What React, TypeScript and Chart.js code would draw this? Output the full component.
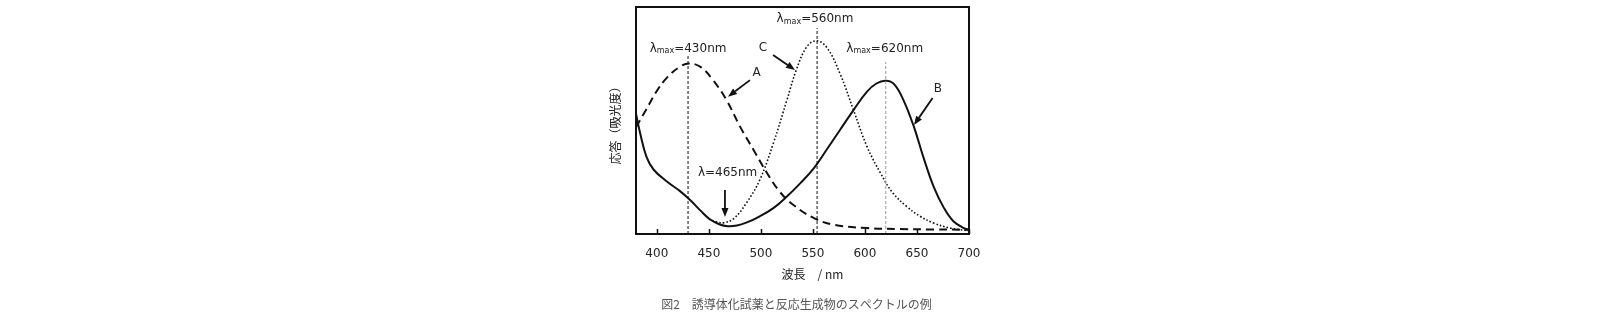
import React, { useEffect, useRef } from "react";
import { Chart, registerables } from "chart.js";
Chart.register(...registerables);

// Wavelength (nm) and response values
const A_WL = [380, 390, 400, 410, 422, 431, 442, 454, 467, 480, 493, 506, 518, 531, 551, 570, 602, 634, 666, 700];
const A_VAL = [0.47, 0.55, 0.63, 0.69, 0.736, 0.751, 0.736, 0.678, 0.59, 0.473, 0.37, 0.268, 0.187, 0.129, 0.07, 0.041, 0.026, 0.022, 0.02, 0.019];

const B_WL = [380, 384, 390, 397, 410, 422, 432, 442, 451, 460, 468, 477, 486, 499, 512, 525, 538, 551, 563, 576, 589, 602, 611, 620, 628, 637, 647, 656, 666, 676, 685, 695, 700];
const B_VAL = [0.53, 0.444, 0.341, 0.283, 0.23, 0.19, 0.15, 0.103, 0.065, 0.043, 0.034, 0.037, 0.05, 0.078, 0.114, 0.165, 0.224, 0.29, 0.37, 0.458, 0.546, 0.627, 0.663, 0.675, 0.66, 0.59, 0.473, 0.341, 0.209, 0.114, 0.056, 0.026, 0.019];

const C_WL = [450, 458, 465, 474, 486, 499, 512, 525, 534, 544, 553, 563, 576, 589, 602, 615, 627, 640, 653, 666, 682, 700];
const C_VAL = [0.065, 0.053, 0.05, 0.068, 0.136, 0.239, 0.4, 0.59, 0.722, 0.824, 0.851, 0.824, 0.707, 0.546, 0.385, 0.268, 0.18, 0.122, 0.078, 0.048, 0.026, 0.014];

// Peak marker lines
const VLINE_X = [430, 554, 620];
const VLINE_TOP = [0.79, 0.907, 0.758];
const VLINE_COLOR = ["#111", "#111", "#999"];

const X_TICKS = [400, 450, 500, 550, 600, 650, 700];

// Annotation texts (data coordinates)
const LMAX_TEXT = ["=430nm", "=560nm", "=620nm"];
const LMAX_X = [430, 552, 619];
const LMAX_Y = [0.82, 0.95, 0.82];

const LETTERS = ["A", "B", "C"];
const LETTER_X = [496, 670, 502];
const LETTER_Y = [0.71, 0.64, 0.82];
const ARROW_FROM_X = [489.5, 665, 511.7, 465.5];
const ARROW_FROM_Y = [0.678, 0.599, 0.789, 0.194];
const ARROW_TO_X = [468.4, 647.1, 532.8, 465.5];
const ARROW_TO_Y = [0.605, 0.48, 0.722, 0.075];

const MIN_TEXT = "λ=465nm";
const MIN_X = 468;
const MIN_Y = 0.269;

const Y_TITLE = "応答（吸光度）";
const X_TITLE = "波長　/ nm";
const CAPTION = "図2　誘導体化試薬と反応生成物のスペクトルの例";

const pts = (xs: number[], ys: number[]) => xs.map((x, i) => ({ x, y: ys[i] }));

const FONT = "'DejaVu Sans', sans-serif";
const CJK = "'Noto Sans CJK JP', sans-serif";

function drawArrow(ctx: CanvasRenderingContext2D, x1: number, y1: number, x2: number, y2: number) {
  const ang = Math.atan2(y2 - y1, x2 - x1);
  const head = 9;
  const hw = 3.5;
  const bx = x2 - head * Math.cos(ang);
  const by = y2 - head * Math.sin(ang);
  ctx.beginPath();
  ctx.moveTo(x1, y1);
  ctx.lineTo(bx, by);
  ctx.lineWidth = 1.8;
  ctx.strokeStyle = "#111";
  ctx.stroke();
  ctx.beginPath();
  ctx.moveTo(x2, y2);
  ctx.lineTo(bx + hw * Math.sin(ang), by - hw * Math.cos(ang));
  ctx.lineTo(bx - hw * Math.sin(ang), by + hw * Math.cos(ang));
  ctx.closePath();
  ctx.fillStyle = "#111";
  ctx.fill();
}

function drawLambda(ctx: CanvasRenderingContext2D, cx: number, cy: number, rest: string) {
  const big = `12px ${FONT}`;
  const small = `8px ${FONT}`;
  ctx.font = big;
  const wL = ctx.measureText("λ").width;
  const wR = ctx.measureText(rest).width;
  ctx.font = small;
  const wS = ctx.measureText("max").width;
  let x = cx - (wL + wS + wR) / 2;
  const base = cy + 4;
  ctx.textAlign = "left";
  ctx.textBaseline = "alphabetic";
  ctx.fillStyle = "#222";
  ctx.font = big;
  ctx.fillText("λ", x, base);
  x += wL;
  ctx.font = small;
  ctx.fillText("max", x, base + 1.5);
  x += wS;
  ctx.font = big;
  ctx.fillText(rest, x, base);
}

const decorPlugin = {
  id: "decor",
  afterDatasetsDraw(chart: any) {
    const { ctx, chartArea: a, scales } = chart;
    const xs = scales.x;
    const ys = scales.y;
    ctx.save();
    // frame
    ctx.strokeStyle = "#111";
    ctx.lineWidth = 2;
    ctx.strokeRect(a.left, a.top, a.right - a.left, a.bottom - a.top);
    // inward ticks
    ctx.lineWidth = 1.5;
    X_TICKS.forEach((v) => {
      const px = Math.round(xs.getPixelForValue(v)) + 0.5;
      ctx.beginPath();
      ctx.moveTo(px, a.bottom);
      ctx.lineTo(px, a.bottom - 5);
      ctx.stroke();
    });
    // lambda max labels
    LMAX_TEXT.forEach((t, i) => {
      drawLambda(ctx, xs.getPixelForValue(LMAX_X[i]), ys.getPixelForValue(LMAX_Y[i]), t);
    });
    // letters
    ctx.font = `12px ${FONT}`;
    ctx.textAlign = "center";
    ctx.textBaseline = "middle";
    ctx.fillStyle = "#222";
    LETTERS.forEach((t, i) => {
      ctx.fillText(t, xs.getPixelForValue(LETTER_X[i]), ys.getPixelForValue(LETTER_Y[i]));
    });
    ctx.fillText(MIN_TEXT, xs.getPixelForValue(MIN_X), ys.getPixelForValue(MIN_Y));
    // arrows
    ARROW_FROM_X.forEach((_, i) => {
      drawArrow(
        ctx,
        xs.getPixelForValue(ARROW_FROM_X[i]),
        ys.getPixelForValue(ARROW_FROM_Y[i]),
        xs.getPixelForValue(ARROW_TO_X[i]),
        ys.getPixelForValue(ARROW_TO_Y[i])
      );
    });
    // titles
    ctx.fillStyle = "#222";
    ctx.font = `12px ${CJK}`;
    ctx.textAlign = "center";
    ctx.textBaseline = "middle";
    ctx.fillText(X_TITLE, (a.left + a.right) / 2 + 10, a.bottom + 40);
    ctx.fillStyle = "#555";
    ctx.font = `12px ${CJK}`;
    ctx.fillText(CAPTION, (a.left + a.right) / 2 - 6, a.bottom + 70);
    ctx.save();
    ctx.translate(a.left - 21, (a.top + a.bottom) / 2 + 2);
    ctx.rotate(-Math.PI / 2);
    ctx.fillStyle = "#222";
    ctx.font = `12px ${CJK}`;
    ctx.fillText(Y_TITLE, 0, 0);
    ctx.restore();
    ctx.restore();
  },
};

export default function App() {
  const ref = useRef<HTMLCanvasElement | null>(null);
  useEffect(() => {
    if (!ref.current) return;
    const vlines = VLINE_X.map((x, i) => ({
      data: [
        { x, y: 0 },
        { x, y: VLINE_TOP[i] },
      ],
      borderColor: VLINE_COLOR[i],
      borderWidth: 1,
      borderDash: [3, 2],
      pointRadius: 0,
      tension: 0,
      fill: false,
    }));
    const chart = new Chart(ref.current, {
      type: "line",
      data: {
        datasets: [
          ...vlines,
          {
            data: pts(A_WL, A_VAL),
            borderColor: "#111",
            borderWidth: 2,
            borderDash: [8, 5],
            tension: 0.4,
            pointRadius: 0,
            fill: false,
          },
          {
            data: pts(C_WL, C_VAL),
            borderColor: "#111",
            borderWidth: 1.6,
            borderDash: [1.6, 2],
            tension: 0.4,
            pointRadius: 0,
            fill: false,
          },
          {
            data: pts(B_WL, B_VAL),
            borderColor: "#111",
            borderWidth: 2,
            tension: 0.4,
            pointRadius: 0,
            fill: false,
          },
        ] as any,
      },
      options: {
        animation: false,
        responsive: false,
        maintainAspectRatio: false,
        layout: { padding: { left: 636, right: 631, top: 7, bottom: 0 } },
        plugins: { legend: { display: false }, tooltip: { enabled: false } },
        elements: { point: { radius: 0 } },
        scales: {
          x: {
            type: "linear",
            min: 380,
            max: 700,
            grid: { display: false, drawTicks: false },
            border: { display: false },
            afterBuildTicks: (s: any) => {
              s.ticks = X_TICKS.map((v) => ({ value: v }));
            },
            afterFit: (s: any) => {
              s.height = 91;
            },
            ticks: {
              padding: 13,
              color: "#222",
              font: { family: "DejaVu Sans", size: 12 },
              maxRotation: 0,
              autoSkip: false,
            },
          },
          y: { display: false, min: 0, max: 1 },
        },
      } as any,
      plugins: [decorPlugin],
    });
    return () => chart.destroy();
  }, []);
  return (
    <div style={{ position: "absolute", left: 0, top: 0, width: 1600, height: 325, background: "#fff" }}>
      <canvas ref={ref} width={1600} height={325} />
    </div>
  );
}
